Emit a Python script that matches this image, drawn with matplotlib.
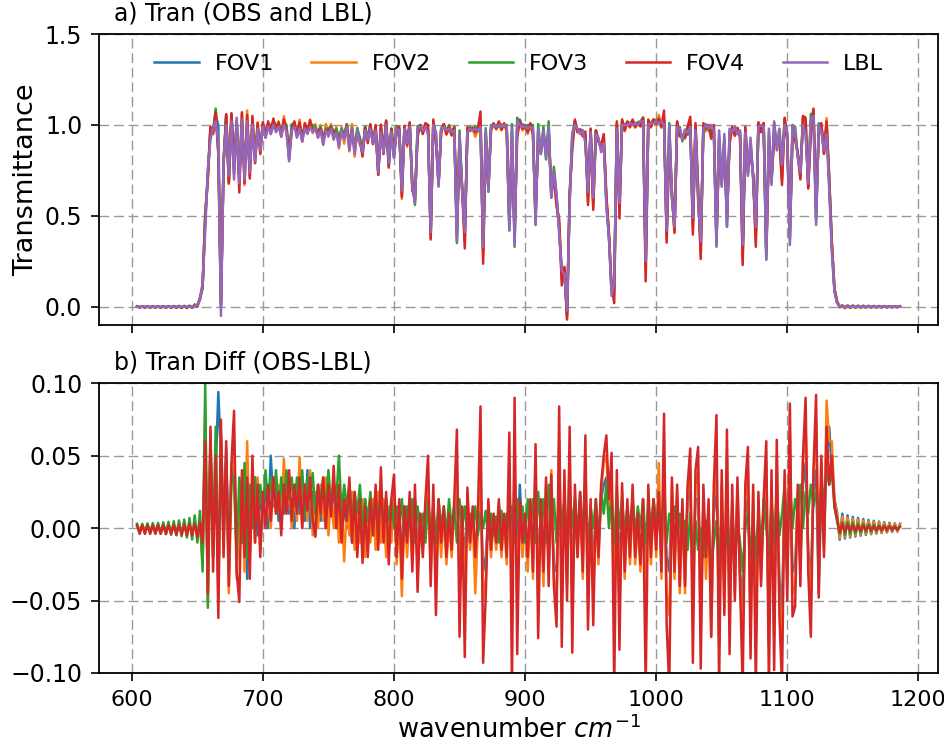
import numpy as np
import matplotlib
matplotlib.use("Agg")
import matplotlib.pyplot as plt

# spectral grid: 604 .. 1186 cm-1, 2 cm-1 step
start_wn = 604
step_wn = 2

# LBL simulated transmittance
lbl = [
    0, 0, 0, 0, 0, 0, 0, 0, 0, 0,
    0, 0, 0, 0, 0, 0, 0, 0, 0, 0,
    0.0, 0.002, 0.005, 0.01, 0.04, 0.13, 0.42, 0.76, 0.92, 0.98,
    1.02, 0.90, -0.05, 0.80, 1.00, 0.72, 1.02, 0.70, 1.04, 0.68,
    1.03, 0.70, 1.02, 0.74, 1.00, 0.80, 0.98, 0.86, 0.99, 0.93,
    0.99, 0.95, 1.00, 0.96, 0.99, 0.94, 1.00, 0.96, 0.80, 0.97,
    0.99, 0.93, 0.98, 0.91, 0.98, 0.95, 0.99, 0.96, 0.98, 0.93,
    0.97, 0.89, 0.97, 0.94, 0.98, 0.92, 0.96, 0.88, 0.97, 0.92,
    0.99, 0.86, 0.98, 0.84, 0.97, 0.90, 0.85, 0.97, 0.92, 0.98,
    0.90, 0.97, 0.74, 0.96, 0.85, 1.00, 0.79, 0.96, 0.82, 0.98,
    0.97, 0.64, 0.98, 0.90, 0.99, 0.67, 0.57, 0.98, 0.99, 0.97,
    0.99, 0.95, 0.41, 1.00, 0.96, 0.66, 0.98, 0.99, 0.97, 0.98,
    0.96, 0.97, 0.36, 0.95, 0.64, 0.41, 0.96, 0.98, 0.97, 0.98,
    0.97, 0.99, 0.33, 0.97, 0.64, 0.99, 1.00, 0.99, 1.00, 0.99,
    1.00, 0.99, 0.42, 0.99, 0.34, 1.02, 1.00, 0.99, 0.99, 0.98,
    0.99, 0.98, 0.46, 0.98, 0.84, 0.97, 0.82, 0.99, 0.60, 0.75,
    0.62, 0.40, 0.20, 0.18, -0.02, 0.56, 0.95, 1.00, 0.98, 0.95,
    0.97, 0.90, 0.63, 0.96, 0.60, 0.95, 0.93, 0.85, 0.90, 0.55,
    0.38, 0.06, 0.13, 0.98, 0.57, 1.00, 1.00, 1.00, 1.01, 1.00,
    1.01, 1.00, 1.02, 1.02, 0.25, 1.00, 1.01, 1.01, 1.02, 1.01,
    1.02, 1.00, 0.42, 1.00, 0.60, 0.44, 0.99, 0.98, 0.92, 0.97,
    0.96, 0.99, 0.49, 0.97, 0.60, 0.36, 0.98, 1.00, 0.98, 1.00,
    0.97, 0.33, 0.97, 0.66, 0.95, 0.44, 0.98, 0.96, 0.99, 0.95,
    0.97, 0.34, 0.96, 0.72, 0.93, 0.70, 0.44, 0.99, 1.00, 0.99,
    0.26, 0.98, 0.67, 1.02, 0.86, 0.98, 0.78, 1.00, 0.96, 0.34,
    1.00, 0.97, 0.82, 0.74, 1.00, 0.95, 0.68, 1.03, 1.05, 0.45,
    1.00, 0.96, 0.86, 0.95, 0.65, 0.30, 0.08, 0.02, 0.005, 0.0,
    0, 0, 0, 0, 0, 0, 0, 0, 0, 0,
    0, 0, 0, 0, 0, 0, 0, 0, 0, 0,
    0, 0,
]

# OBS - LBL for each field of view
diff_fov1 = [
    0.0015, -0.0015, 0.0015, -0.0015, 0.0015, -0.0015, 0.0015, -0.0015, 0.0015, -0.0015,
    0.0015, -0.0015, 0.0015, -0.0015, 0.0015, -0.0015, 0.0015, -0.0015, 0.0015, -0.0015,
    0.0015, -0.002, 0.002, -0.003, 0.003, -0.02, 0.06, -0.03, 0.055, -0.01,
    0.04, 0.094, 0.05, -0.01, 0.055, -0.03, 0.04, 0.06, -0.02, 0.02,
    -0.01, 0.04, -0.035, 0.02, 0.01, 0.035, -0.005, 0.02, 0.01, 0.03,
    0.0, 0.05, 0.015, 0.03, 0.005, 0.025, 0.01, 0.035, 0.01, 0.02,
    0.0, 0.03, 0.01, 0.025, 0.005, 0.04, 0.0, 0.025, -0.005, 0.02,
    0.005, 0.03, 0.0, 0.025, 0.01, 0.03, 0.0, 0.02, -0.005, 0.015,
    0.0, 0.02, -0.01, 0.02, -0.005, 0.015, -0.01, 0.02, 0.0, 0.015,
    -0.005, 0.02, -0.01, 0.025, 0.0, 0.02, -0.015, 0.015, 0.005, -0.01,
    0.01, -0.02, 0.015, -0.005, 0.02, -0.015, 0.02, -0.02, 0.01, -0.01,
    0.015, 0.02, -0.015, 0.01, -0.02, 0.015, -0.01, 0.01, -0.015, 0.005,
    -0.01, 0.015, 0.02, -0.02, 0.01, -0.025, 0.015, -0.01, 0.01, -0.02,
    0.005, 0.02, -0.03, -0.02, 0.01, -0.015, 0.005, -0.01, 0.015, -0.01,
    0.005, -0.015, 0.03, -0.03, 0.035, -0.02, 0.03, -0.01, 0.005, -0.015,
    0.015, -0.02, 0.025, -0.025, 0.01, -0.02, 0.02, -0.02, 0.02, -0.025,
    -0.03, 0.03, -0.02, 0.02, -0.03, 0.03, -0.03, 0.015, -0.01, 0.02,
    -0.02, 0.03, -0.025, 0.01, -0.03, 0.015, -0.015, 0.02, 0.03, 0.035,
    0.01, 0.03, -0.03, 0.02, -0.03, 0.02, -0.025, 0.01, -0.015, 0.02,
    -0.015, 0.005, -0.02, 0.015, -0.035, 0.02, -0.01, 0.015, -0.01, 0.02,
    -0.02, 0.03, -0.02, -0.03, 0.02, -0.02, 0.02, -0.03, 0.01, -0.03,
    0.02, 0.025, -0.035, 0.02, 0.02, -0.04, 0.015, -0.015, 0.01, -0.04,
    0.01, 0.03, -0.05, 0.02, -0.04, 0.03, -0.04, 0.015, -0.03, 0.02,
    -0.03, -0.05, 0.01, 0.02, -0.045, 0.015, -0.05, 0.01, -0.025, 0.01,
    0.025, -0.065, 0.02, -0.05, 0.03, -0.035, -0.055, 0.025, -0.03, 0.04,
    -0.03, -0.025, 0.015, -0.02, 0.03, 0.045, -0.015, -0.035, 0.025, 0.04,
    -0.045, 0.03, -0.01, 0.05, 0.07, 0.04, 0.02, 0.011, -0.008, 0.010,
    -0.0072, 0.0088, -0.0065, 0.0078, -0.0058, 0.007, -0.0052, 0.0063, -0.0047, 0.0057,
    -0.0042, 0.0051, -0.0038, 0.0046, -0.0034, 0.0041, -0.003, 0.0037, -0.0027, 0.0033,
    -0.0024, 0.003,
]

diff_fov2 = [
    0.0012, -0.0018, 0.0012, -0.0018, 0.0012, -0.0018, 0.0012, -0.0018, 0.0012, -0.0018,
    0.0012, -0.0018, 0.0012, -0.0018, 0.0012, -0.0018, 0.0012, -0.0018, 0.0012, -0.0018,
    0.0015, -0.002, 0.002, -0.003, 0.004, -0.025, 0.083, -0.05, 0.06, -0.02,
    0.06, -0.05, 0.065, 0.0, 0.045, -0.045, 0.03, 0.05, -0.035, 0.01,
    0.035, -0.03, 0.06, -0.02, 0.03, -0.01, 0.035, -0.015, 0.02, 0.005,
    0.02, 0.0, 0.03, 0.01, 0.03, 0.0, 0.048, 0.01, 0.03, 0.0,
    0.025, 0.005, 0.049, 0.0, 0.03, 0.005, 0.04, -0.005, 0.025, 0.0,
    0.03, 0.005, 0.035, -0.005, 0.025, 0.0, 0.03, -0.01, 0.02, -0.023,
    0.015, -0.005, 0.025, -0.015, 0.015, -0.01, 0.02, -0.02, 0.01, -0.01,
    0.02, -0.015, 0.025, -0.01, 0.02, -0.02, 0.015, -0.01, 0.03, -0.025,
    0.01, -0.047, 0.01, -0.02, 0.015, -0.025, 0.02, -0.03, 0.005, -0.015,
    0.015, 0.03, -0.03, 0.02, -0.035, 0.01, -0.02, 0.01, -0.025, 0.005,
    -0.02, 0.015, 0.04, -0.04, 0.01, -0.045, 0.02, -0.015, 0.01, -0.045,
    0.0, 0.04, -0.05, -0.035, 0.015, -0.02, 0.005, -0.015, 0.01, -0.02,
    0.005, -0.025, 0.04, -0.06, 0.05, -0.05, 0.015, -0.02, 0.005, -0.03,
    0.015, -0.035, 0.045, -0.05, 0.015, -0.04, 0.03, -0.03, 0.04, -0.035,
    -0.05, 0.06, -0.05, 0.03, -0.04, 0.05, -0.055, 0.02, -0.02, 0.02,
    -0.035, 0.045, -0.05, 0.015, -0.045, 0.015, -0.025, 0.025, 0.045, 0.05,
    0.015, 0.04, -0.06, 0.03, -0.055, 0.025, -0.035, 0.015, -0.025, 0.02,
    -0.025, 0.005, -0.03, 0.02, -0.06, 0.025, -0.025, 0.02, -0.02, 0.045,
    -0.035, 0.05, -0.045, -0.06, 0.03, -0.035, 0.025, -0.045, 0.015, -0.045,
    0.025, 0.04, -0.06, 0.03, 0.04, -0.07, 0.02, -0.035, 0.015, -0.075,
    0.02, 0.05, -0.08, 0.03, -0.055, 0.05, -0.065, 0.02, -0.045, 0.03,
    -0.035, -0.08, 0.02, 0.04, -0.07, 0.025, -0.08, 0.02, -0.035, 0.015,
    0.045, -0.08, 0.03, -0.075, 0.05, -0.05, -0.08, 0.035, -0.04, 0.065,
    -0.045, -0.04, 0.025, -0.03, 0.045, 0.07, -0.02, -0.055, 0.035, 0.075,
    -0.035, 0.045, -0.015, 0.088, 0.06, 0.06, 0.02, 0.009, -0.007, 0.008,
    -0.0062, 0.0072, -0.0056, 0.0064, -0.005, 0.0058, -0.0045, 0.0052, -0.0041, 0.0047,
    -0.0037, 0.0043, -0.0034, 0.0039, -0.0031, 0.0035, -0.0028, 0.0032, -0.0025, 0.003,
    -0.0023, 0.0027,
]

diff_fov3 = [
    0.003, -0.003, 0.003, -0.0032, 0.0033, -0.0034, 0.0035, -0.0036, 0.0037, -0.0038,
    0.004, -0.0042, 0.0044, -0.0046, 0.0048, -0.005, 0.0053, -0.0056, 0.006, -0.0065,
    0.007, -0.0078, 0.0088, -0.010, 0.012, -0.03, 0.10, -0.055, 0.065, -0.02,
    0.07, -0.04, 0.06, 0.0, 0.05, -0.03, 0.04, 0.03, -0.02, 0.035,
    -0.01, 0.045, -0.02, 0.03, 0.0, 0.035, 0.005, 0.03, 0.01, 0.04,
    0.015, 0.035, 0.02, 0.04, 0.01, 0.035, 0.015, 0.04, 0.02, 0.035,
    0.015, 0.035, 0.02, 0.04, 0.01, 0.035, 0.02, 0.038, 0.01, 0.03,
    0.02, 0.035, 0.01, 0.04, 0.015, 0.03, 0.02, 0.05, 0.01, 0.03,
    0.015, 0.03, 0.005, 0.025, 0.01, 0.03, 0.0, 0.02, 0.005, 0.025,
    0.0, 0.02, 0.005, 0.025, 0.0, 0.02, 0.005, 0.02, 0.0, 0.015,
    0.0, 0.02, -0.005, 0.015, 0.0, 0.02, -0.01, 0.015, 0.0, 0.01,
    -0.01, 0.02, -0.005, 0.015, -0.01, 0.02, 0.0, 0.015, -0.005, 0.02,
    0.0, 0.015, -0.01, 0.02, 0.0, 0.015, -0.005, 0.01, 0.0, 0.015,
    -0.005, 0.01, 0.0, 0.012, -0.008, 0.01, -0.005, 0.008, -0.01, 0.012,
    -0.005, 0.01, 0.0, 0.015, -0.01, 0.02, 0.0, 0.015, -0.01, 0.02,
    0.0, 0.02, -0.01, 0.025, 0.0, 0.02, -0.01, 0.03, 0.0, 0.02,
    -0.01, 0.025, 0.0, 0.02, -0.01, 0.03, 0.0, 0.02, -0.005, 0.025,
    0.0, 0.02, -0.01, 0.015, 0.0, 0.02, -0.01, 0.025, 0.01, 0.03,
    0.0, 0.02, -0.01, 0.025, 0.0, 0.02, -0.005, 0.015, 0.0, 0.02,
    -0.005, 0.015, 0.0, 0.02, -0.01, 0.015, 0.0, 0.02, 0.005, 0.015,
    0.0, 0.02, -0.01, 0.01, 0.0, 0.015, -0.005, 0.01, -0.01, 0.005,
    -0.015, 0.01, -0.02, 0.005, -0.015, 0.0, -0.02, 0.005, -0.01, -0.025,
    -0.01, 0.005, -0.03, 0.01, -0.02, 0.0, -0.015, 0.01, -0.02, 0.005,
    -0.01, -0.03, 0.0, 0.01, -0.02, 0.005, -0.02, 0.01, -0.015, 0.02,
    0.0, -0.02, 0.02, -0.01, 0.025, -0.005, 0.01, 0.03, -0.01, 0.03,
    0.0, 0.02, 0.01, 0.03, 0.0, 0.025, 0.01, 0.03, 0.015, 0.025,
    0.01, 0.03, 0.02, 0.04, 0.03, 0.04, 0.015, 0.005, -0.004, 0.004,
    -0.0045, 0.0043, -0.004, 0.0038, -0.0036, 0.0034, -0.0032, 0.003, -0.0028, 0.0026,
    -0.0025, 0.0023, -0.0022, 0.002, -0.0019, 0.0018, -0.0017, 0.0016, -0.0015, 0.0014,
    -0.0013, 0.0012,
]

diff_fov4 = [
    0.002, -0.004, 0.002, -0.004, 0.002, -0.004, 0.002, -0.004, 0.002, -0.004,
    0.002, -0.004, 0.002, -0.004, 0.002, -0.0045, 0.0025, -0.0045, 0.0025, -0.005,
    0.003, -0.005, 0.003, -0.006, 0.004, -0.01, 0.06, -0.045, 0.07, -0.03,
    0.05, -0.062, 0.075, -0.02, 0.06, -0.04, 0.045, 0.081, -0.03, -0.051,
    0.04, -0.02, 0.035, -0.035, 0.05, -0.01, 0.03, -0.02, 0.025, 0.0,
    0.03, 0.005, 0.035, 0.01, 0.025, -0.005, 0.03, 0.01, 0.04, 0.005,
    0.03, 0.01, 0.035, 0.0, 0.03, 0.012, 0.035, 0.005, -0.006, 0.03,
    0.01, 0.035, 0.0, 0.03, 0.008, 0.043, 0.0, 0.03, -0.01, 0.02,
    0.005, 0.035, -0.01, 0.025, -0.02, 0.02, -0.024, 0.015, -0.02, 0.02,
    -0.005, 0.03, -0.015, 0.042, -0.01, 0.025, -0.025, 0.02, 0.037, -0.02,
    0.02, -0.035, 0.015, -0.01, 0.025, -0.03, 0.03, -0.044, 0.01, -0.02,
    0.02, 0.05, -0.04, 0.03, -0.06, 0.02, -0.01, 0.015, -0.02, 0.01,
    -0.015, 0.02, 0.068, -0.075, 0.015, -0.089, 0.028, -0.01, 0.015, -0.02,
    0.01, 0.084, -0.093, -0.047, 0.02, -0.015, 0.01, -0.01, 0.02, -0.015,
    0.01, -0.02, 0.066, -0.11, 0.09, -0.087, 0.02, -0.01, 0.01, -0.02,
    0.02, -0.03, 0.058, -0.076, 0.02, -0.03, 0.035, -0.04, 0.037, -0.04,
    -0.068, 0.084, -0.082, 0.04, -0.05, 0.07, -0.086, 0.03, -0.02, 0.025,
    -0.03, 0.064, -0.07, 0.02, -0.067, 0.02, -0.02, 0.03, 0.05, 0.064,
    0.02, 0.052, -0.11, 0.04, -0.084, 0.031, -0.03, 0.02, -0.02, 0.03,
    -0.02, 0.01, -0.025, 0.02, -0.11, 0.03, -0.02, 0.02, -0.015, 0.025,
    -0.03, 0.079, -0.067, -0.11, 0.035, -0.03, 0.03, -0.04, 0.02, -0.04,
    0.03, 0.055, -0.093, 0.04, 0.056, -0.097, 0.03, -0.02, 0.02, -0.075,
    0.03, 0.078, -0.11, 0.04, -0.06, 0.068, -0.087, 0.03, -0.05, 0.035,
    -0.04, -0.11, 0.03, 0.056, -0.09, 0.03, -0.11, 0.025, -0.04, 0.02,
    0.06, -0.11, 0.04, -0.098, 0.061, -0.06, -0.11, 0.04, -0.05, 0.086,
    -0.061, -0.054, 0.03, -0.04, 0.05, 0.09, -0.03, -0.075, 0.04, 0.092,
    -0.048, 0.05, -0.02, 0.07, 0.03, 0.05, 0.015, 0.006, -0.003, 0.003,
    -0.0025, 0.0025, -0.002, 0.002, -0.002, 0.0018, -0.0018, 0.0016, -0.0016, 0.0015,
    -0.0015, 0.0014, -0.0014, 0.0013, -0.0013, 0.0012, -0.0012, 0.0011, -0.0011, 0.001,
    -0.001, 0.001,
]

fov_names = ["FOV1", "FOV2", "FOV3", "FOV4"]
fov_colors = ["C0", "C1", "C2", "C3"]

lbl = np.array(lbl)
diffs = [np.array(d) for d in (diff_fov1, diff_fov2, diff_fov3, diff_fov4)]
wn = start_wn + step_wn * np.arange(len(lbl))

LW = 1.8

fig = plt.figure(figsize=(9.45, 7.48), dpi=100)
ax1 = fig.add_axes([0.1048, 0.5655, 0.8878, 0.389])
ax2 = fig.add_axes([0.1048, 0.1003, 0.8878, 0.3873], sharex=ax1)

# a) observed and simulated transmittance
for name, col, d in zip(fov_names, fov_colors, diffs):
    ax1.plot(wn, lbl + d, color=col, lw=LW, label=name)
ax1.plot(wn, lbl, color="C4", lw=LW, label="LBL")
ax1.set_ylim(-0.1, 1.5)
ax1.set_yticks([0.0, 0.5, 1.0, 1.5])
ax1.set_ylabel("Transmittance", fontsize=19.5)
ax1.text(0.018, 1.03, "a) Tran (OBS and LBL)", transform=ax1.transAxes,
         fontsize=17, ha="left", va="bottom")
ax1.legend(loc="upper center", ncol=5, frameon=False, fontsize=16,
           columnspacing=1.7, handletextpad=0.7)
plt.setp(ax1.get_xticklabels(), visible=False)

# b) differences
for name, col, d in zip(fov_names, fov_colors, diffs):
    ax2.plot(wn, d, color=col, lw=LW)
ax2.set_ylim(-0.1, 0.1)
ax2.set_yticks([-0.1, -0.05, 0.0, 0.05, 0.1])
ax2.set_xlim(575, 1215)
ax2.set_xticks([600, 700, 800, 900, 1000, 1100, 1200])
ax2.set_xlabel("wavenumber $cm^{-1}$", fontsize=18.5)
ax2.text(0.018, 1.03, "b) Tran Diff (OBS-LBL)", transform=ax2.transAxes,
         fontsize=17, ha="left", va="bottom")

for ax in (ax1, ax2):
    ax.grid(True, color="0.6", lw=1.0, linestyle=(0, (7, 3.5)))
    ax.tick_params(axis="y", labelsize=17)
    ax.tick_params(axis="x", labelsize=16)
    ax.tick_params(length=6, width=1.2, pad=6)
    for sp in ax.spines.values():
        sp.set_linewidth(1.3)

fig.savefig("out.png", dpi=100)
